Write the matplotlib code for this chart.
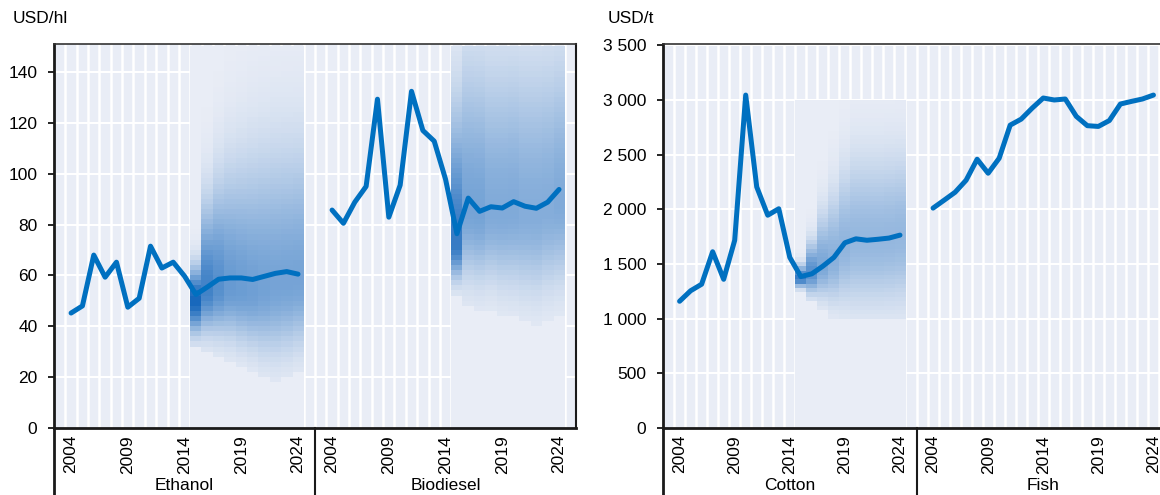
import numpy as np
import matplotlib
matplotlib.use("Agg")
import matplotlib.pyplot as plt
import matplotlib.transforms as mtransforms
from matplotlib.colors import LinearSegmentedColormap
from matplotlib.ticker import FuncFormatter

plt.rcParams['font.family'] = ['Liberation Sans', 'DejaVu Sans']
plt.rcParams['font.size'] = 12.5

years = list(range(2004, 2025))
tick_years = [2004, 2009, 2014, 2019, 2024]

# historical + baseline (USD/hl)
ethanol = [45.2, 48.0, 68.0, 59.3, 65.2, 47.5, 51.0, 71.5, 62.9, 65.2, 59.7,
           52.5, 55.4, 58.5, 59.0, 59.0, 58.4, 59.6, 60.8, 61.5, 60.5]
biodiesel = [85.7, 80.5, 88.8, 95.0, 129.3, 82.9, 95.5, 132.4, 117.0, 112.8, 97.8,
             76.4, 90.4, 85.2, 87.0, 86.5, 89.0, 87.2, 86.4, 88.8, 93.8]
# USD/t
cotton = [1159, 1255, 1315, 1612, 1360, 1716, 3045, 2205, 1946, 2005, 1560,
          1385, 1410, 1480, 1560, 1694, 1730, 1717, 1726, 1737, 1764]
fish = [2011, 2083, 2156, 2266, 2458, 2330, 2467, 2770, 2825, 2926, 3018,
        3000, 3009, 2850, 2765, 2758, 2812, 2963, 2987, 3009, 3045]

# stochastic fan, 2015-2024: low edge, densest value, high edge, peak shade
eth_lo = [32, 31, 29, 27, 25, 23, 20, 19, 20, 22]
eth_mid = [50, 54, 55, 55, 54, 53, 54, 55, 56, 57]
eth_hi = [76, 120, 135, 145, 150, 155, 158, 160, 160, 160]
eth_peak = [1.0, 0.8, 0.7, 0.62, 0.6, 0.58, 0.56, 0.55, 0.55, 0.55]

bio_lo = [53, 48, 47, 47, 45, 44, 42, 41, 43, 45]
bio_mid = [72, 85, 84, 84, 84, 85, 84, 84, 86, 88]
bio_hi = [175, 200, 200, 200, 200, 200, 200, 200, 200, 200]
bio_peak = [0.85, 0.55, 0.55, 0.5, 0.5, 0.5, 0.48, 0.48, 0.48, 0.5]

cot_lo = [1250, 1150, 1080, 1000, 950, 900, 900, 900, 900, 900]
cot_mid = [1370, 1420, 1480, 1530, 1650, 1700, 1700, 1700, 1720, 1750]
cot_hi = [1600, 1950, 2400, 2700, 3000, 3200, 3200, 3200, 3200, 3200]
cot_peak = [0.85, 0.7, 0.52, 0.45, 0.42, 0.4, 0.4, 0.4, 0.4, 0.4]
cot_floor = 1000

BG = '#E9EDF6'
BLUE = '#0070C0'
fan_cmap = LinearSegmentedColormap.from_list('fan', [BG, '#1868BC'])


def fan_image(lo, mid, hi, peak, top, floor=0, nrows=75):
    yc = (np.arange(nrows) + 0.5) * top / nrows
    img = np.zeros((nrows, len(lo)))
    for j in range(len(lo)):
        s = np.where(yc < mid[j], (mid[j] - lo[j]) / 2.2, (hi[j] - mid[j]) / 3.0)
        col = peak[j] * np.exp(-0.5 * ((yc - mid[j]) / s) ** 2)
        col[(yc < lo[j]) | (yc < floor)] = 0
        img[:, j] = col
    return img


def draw_panel(ax, series, names, fans, ymax, fan_top, yticks):
    ax.set_facecolor(BG)
    xs1 = np.arange(21)
    xs2 = np.arange(21) + 23
    for k in np.arange(-0.5, 44, 1.0):
        ax.axvline(k, color='white', lw=1.8, zorder=1)
    for v in yticks[1:]:
        ax.axhline(v, color='white', lw=1.5, zorder=1)
    for xs, img in zip([xs1, xs2], fans):
        if img is None:
            continue
        ax.imshow(img, cmap=fan_cmap, vmin=0, vmax=1, origin='lower',
                  extent=(xs[0] + 10.5, xs[-1] + 0.5, 0, fan_top),
                  aspect='auto', interpolation='nearest', zorder=2)
    for xs, vals in zip([xs1, xs2], series):
        ax.plot(xs, vals, color=BLUE, lw=3.6, solid_capstyle='round',
                solid_joinstyle='round', zorder=3)
    ax.set_xlim(-1.5, 44.5)
    ax.set_ylim(0, ymax)
    ax.set_yticks(yticks)
    pos = [x for x in xs1 if years[x] in tick_years] + \
          [x for x in xs2 if years[x - 23] in tick_years]
    ax.set_xticks(pos)
    ax.set_xticklabels([str(y) for y in tick_years] * 2, rotation=90)
    ax.tick_params(axis='x', length=0, pad=5)
    ax.tick_params(axis='y', length=4, width=1.2, direction='out', pad=8)
    for s in ['left', 'bottom']:
        ax.spines[s].set_linewidth(2)
        ax.spines[s].set_color('#1a1a1a')
    ax.spines['top'].set_linewidth(1.2)
    ax.spines['top'].set_color('#333333')
    ax.spines['right'].set_linewidth(1.5)
    ax.spines['right'].set_color('#1a1a1a')
    trans = mtransforms.blended_transform_factory(ax.transData, ax.transAxes)
    ax.plot([21.5, 21.5], [0, -0.3], transform=trans, color='#1a1a1a',
            lw=1.5, clip_on=False)
    ax.plot([0, 0], [0, -0.3], transform=ax.transAxes, color='#1a1a1a',
            lw=2, clip_on=False)
    ax.text(10, -0.151, names[0], transform=trans, ha='center', va='center')
    ax.text(33, -0.151, names[1], transform=trans, ha='center', va='center')


fig = plt.figure(figsize=(11.6, 4.95), dpi=100)
ax1 = fig.add_axes([0.0466, 0.1354, 0.4500, 0.7757])
ax2 = fig.add_axes([0.5716, 0.1354, 0.4370, 0.7757])

eth_img = fan_image(eth_lo, eth_mid, eth_hi, eth_peak, 150)
bio_img = fan_image(bio_lo, bio_mid, bio_hi, bio_peak, 150)
cot_img = fan_image(cot_lo, cot_mid, cot_hi, cot_peak, 3000, floor=cot_floor)

draw_panel(ax1, [ethanol, biodiesel], ['Ethanol', 'Biodiesel'],
           [eth_img, bio_img], 151, 150, list(range(0, 141, 20)))
draw_panel(ax2, [cotton, fish], ['Cotton', 'Fish'],
           [cot_img, None], 3512, 3000, list(range(0, 3501, 500)))
ax2.yaxis.set_major_formatter(FuncFormatter(lambda v, p: f'{v:,.0f}'.replace(',', ' ')))

fig.text(0.011, 0.963, 'USD/hl', ha='left', va='center')
fig.text(0.524, 0.963, 'USD/t', ha='left', va='center')

fig.savefig('out.png', dpi=100)
